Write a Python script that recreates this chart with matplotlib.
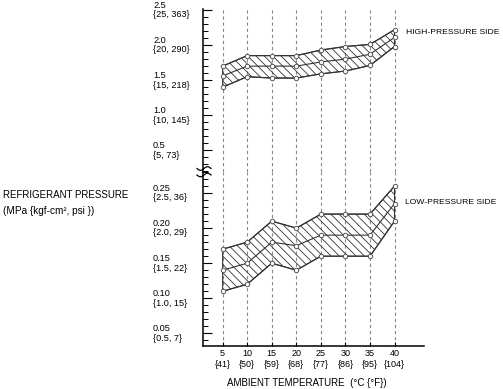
import matplotlib
matplotlib.use("Agg")
import matplotlib.pyplot as plt
import numpy as np
from matplotlib.ticker import MultipleLocator
from matplotlib.lines import Line2D
from matplotlib.transforms import blended_transform_factory

plt.rcParams['font.family'] = ['Liberation Sans', 'DejaVu Sans']
plt.rcParams['hatch.linewidth'] = 0.6

# ambient temperature (deg C) and matching deg F labels
temps_c = [5, 10, 15, 20, 25, 30, 35, 40]
temps_f = [41, 50, 59, 68, 77, 86, 95, 104]

# high-pressure side (MPa)
high_top = [1.70, 1.85, 1.85, 1.85, 1.93, 1.98, 2.01, 2.22]
high_mid = [1.56, 1.70, 1.70, 1.70, 1.76, 1.80, 1.87, 2.11]
high_bot = [1.40, 1.55, 1.53, 1.53, 1.59, 1.63, 1.71, 1.98]

# low-pressure side (MPa)
low_top = [0.17, 0.18, 0.21, 0.20, 0.22, 0.22, 0.22, 0.26]
low_mid = [0.14, 0.15, 0.18, 0.175, 0.19, 0.19, 0.19, 0.235]
low_bot = [0.11, 0.12, 0.15, 0.14, 0.16, 0.16, 0.16, 0.21]

# y tick labels
high_ticks = [0.5, 1.0, 1.5, 2.0, 2.5]
high_labels = ["0.5\n{5, 73}", "1.0\n{10, 145}", "1.5\n{15, 218}",
               "2.0\n{20, 290}", "2.5\n{25, 363}"]
low_ticks = [0.05, 0.10, 0.15, 0.20, 0.25]
low_labels = ["0.05\n{0.5, 7}", "0.10\n{1.0, 15}", "0.15\n{1.5, 22}",
              "0.20\n{2.0, 29}", "0.25\n{2.5, 36}"]

W, H = 503, 389
fig = plt.figure(figsize=(W / 100, H / 100), dpi=100)

ax_hi = fig.add_axes([203 / W, (H - 172) / H, 221 / W, 163 / H])
ax_lo = fig.add_axes([203 / W, (H - 346) / H, 221 / W, 174 / H])

line_col = "#333333"


def draw_band(ax, top, mid, bot):
    ax.fill_between(temps_c, bot, top, facecolor="none", edgecolor=line_col,
                    hatch="\\\\\\\\", linewidth=0.8, zorder=3)
    for s in (top, mid, bot):
        ax.plot(temps_c, s, color=line_col, lw=0.8, marker="o", ms=3.2,
                mfc="white", mec="#555555", mew=0.7, zorder=4)


for ax in (ax_hi, ax_lo):
    ax.set_xlim(1, 46)
    ax.patch.set_alpha(0)
    for t in temps_c:
        ax.axvline(t, color="#888888", lw=0.8, ls=(0, (3, 2.5)), zorder=1)
    for side in ("top", "right"):
        ax.spines[side].set_visible(False)
    ax.spines["left"].set_linewidth(1.1)
    ax.tick_params(axis="y", which="major", direction="in", length=6.5,
                   width=0.8, labelleft=False)
    ax.tick_params(axis="y", which="minor", direction="in", length=3.6,
                   width=0.7)

draw_band(ax_hi, high_top, high_mid, high_bot)
draw_band(ax_lo, low_top, low_mid, low_bot)

ax_hi.set_ylim(0.19, 2.515)
ax_hi.set_yticks(high_ticks)
ax_hi.yaxis.set_minor_locator(MultipleLocator(0.1))
ax_hi.spines["bottom"].set_visible(False)
ax_hi.tick_params(axis="x", bottom=False, labelbottom=False)

ax_lo.set_ylim(0.032, 0.28)
ax_lo.set_yticks(low_ticks)
ax_lo.yaxis.set_minor_locator(MultipleLocator(0.01))
ax_lo.spines["bottom"].set_linewidth(1.1)
ax_lo.set_xticks(temps_c)
ax_lo.set_xticklabels([f"{c}\n{{{f}}}" for c, f in zip(temps_c, temps_f)],
                      fontsize=6.5, linespacing=1.3)
ax_lo.tick_params(axis="x", direction="in", length=3, width=0.8, pad=2)

# y tick labels, left aligned
for ax, ticks, labels in ((ax_hi, high_ticks, high_labels),
                          (ax_lo, low_ticks, low_labels)):
    tr = blended_transform_factory(fig.transFigure, ax.transData)
    for v, lab in zip(ticks, labels):
        ax.text(153 / W, v, lab, transform=tr, ha="left", va="center",
                fontsize=6.6, linespacing=1.1, clip_on=False)

# axis break mark
bx = np.linspace(197, 211, 40)
for yc in (168.5, 175):
    by = yc + 1.8 * np.sin((bx - 197) / 14 * 2 * np.pi)
    fig.add_artist(Line2D(bx / W, (H - by) / H, color="black", lw=0.9))

fig.text(3 / W, (H - 195) / H, "REFRIGERANT PRESSURE", fontsize=7,
         ha="left", va="center")
fig.text(3 / W, (H - 211) / H, "(MPa {kgf-cm², psi })", fontsize=7.2,
         ha="left", va="center")
fig.text(406 / W, (H - 32) / H, "HIGH-PRESSURE SIDE", fontsize=6.1,
         ha="left", va="center")
fig.text(405 / W, (H - 203) / H, "LOW-PRESSURE SIDE", fontsize=6.1,
         ha="left", va="center")
fig.text(307 / W, (H - 383) / H, "AMBIENT TEMPERATURE  (°C {°F})",
         fontsize=7, ha="center", va="center")

fig.savefig("out.png", dpi=100)
